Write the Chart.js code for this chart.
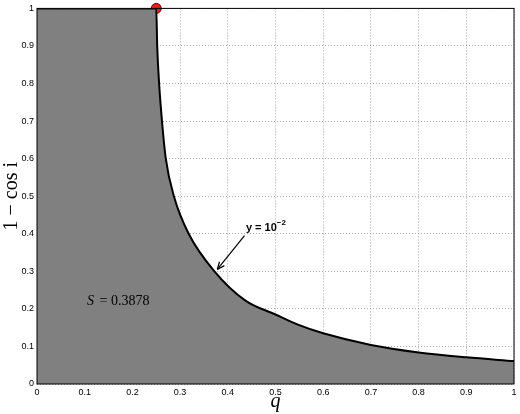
<!DOCTYPE html>
<html><head><meta charset="utf-8">
<script src="https://cdn.jsdelivr.net/npm/chart.js@4"></script>
<style>html,body{margin:0;background:#fff}#wrap{width:520px;height:414px}</style>
</head><body><div id="wrap"><canvas id="c"></canvas></div>
<script>
// Boundary curve y = 10^-2 (q vs 1 - cos i)
const qValues = [0, 0.25, 0.252, 0.256, 0.262, 0.27, 0.287, 0.318, 0.372, 0.437, 0.5, 0.547, 0.6, 0.7, 0.8, 0.9, 1];
const yValues = [1, 1, 0.9, 0.8, 0.7, 0.6, 0.5, 0.4, 0.3, 0.222, 0.185, 0.158, 0.135, 0.104, 0.084, 0.071, 0.061];
const markerPoint = [{ x: 0.25, y: 1 }];
const tickValues = [0, 0.1, 0.2, 0.3, 0.4, 0.5, 0.6, 0.7, 0.8, 0.9, 1];
const curveLabel = 'y = 10';

const curve = qValues.map((q, i) => ({ x: q, y: yValues[i] }));

const annotations = {
    id: 'annotations',
    afterDatasetsDraw(chart) {
        const ctx = chart.ctx;
        const xs = chart.scales.x, ys = chart.scales.y;
        // area text
        ctx.save();
        ctx.fillStyle = '#000';
        ctx.font = 'italic 14px "Liberation Serif"';
        ctx.textBaseline = 'middle';
        ctx.fillText('S', xs.getPixelForValue(0.105), ys.getPixelForValue(0.22));
        ctx.font = '14px "Liberation Serif"';
        ctx.fillText(' = 0.3878', xs.getPixelForValue(0.105) + 9, ys.getPixelForValue(0.22));
        // curve label with arrow
        const tx = xs.getPixelForValue(0.438), ty = ys.getPixelForValue(0.415);
        ctx.font = 'bold 11px "Liberation Sans"';
        ctx.fillText(curveLabel, tx, ty);
        const w = ctx.measureText(curveLabel).width;
        ctx.font = 'bold 8px "Liberation Sans"';
        ctx.fillText('\u22122', tx + w, ty - 5);
        const x0 = xs.getPixelForValue(0.435), y0 = ys.getPixelForValue(0.395);
        const x1 = xs.getPixelForValue(0.378), y1 = ys.getPixelForValue(0.305);
        ctx.strokeStyle = '#000';
        ctx.lineWidth = 1.2;
        ctx.beginPath(); ctx.moveTo(x0, y0); ctx.lineTo(x1, y1); ctx.stroke();
        const a = Math.atan2(y1 - y0, x1 - x0);
        ctx.beginPath();
        ctx.moveTo(x1, y1);
        ctx.lineTo(x1 - 8 * Math.cos(a - 0.4), y1 - 8 * Math.sin(a - 0.4));
        ctx.moveTo(x1, y1);
        ctx.lineTo(x1 - 8 * Math.cos(a + 0.4), y1 - 8 * Math.sin(a + 0.4));
        ctx.stroke();
        // frame
        const ca = chart.chartArea;
        ctx.lineWidth = 1;
        ctx.strokeRect(ca.left, ca.top, ca.right - ca.left, ca.bottom - ca.top);
        ctx.restore();
    }
};

new Chart(document.getElementById('c'), {
    type: 'scatter',
    data: {
        datasets: [{
            data: curve,
            showLine: true,
            cubicInterpolationMode: 'monotone',
            borderColor: '#000',
            borderWidth: 2,
            backgroundColor: '#808080',
            fill: 'origin',
            pointRadius: 0
        }, {
            data: markerPoint,
            pointRadius: 5,
            backgroundColor: '#ee1c1c',
            borderColor: '#600',
            borderWidth: 1,
            clip: false
        }]
    },
    options: {
        responsive: true,
        maintainAspectRatio: false,
        animation: false,
        layout: { padding: { left: 0, right: 2, top: 5, bottom: 0 } },
        plugins: { legend: { display: false }, tooltip: { enabled: false } },
        scales: {
            x: {
                type: 'linear', min: 0, max: 1,
                afterBuildTicks: s => { s.ticks = tickValues.map(v => ({ value: v })); },
                afterFit: s => { s.height = 30; },
                grid: { color: '#aaa', tickLength: 0 },
                border: { display: false, dash: [1, 2] },
                ticks: { color: '#000', font: { size: 9, family: 'Liberation Sans' }, padding: 3, maxRotation: 0,
                    callback: v => String(v) },
                title: { display: true, text: 'q', color: '#000', padding: 0,
                    font: { size: 20, style: 'italic', family: 'Liberation Serif' } }
            },
            y: {
                type: 'linear', min: 0, max: 1,
                afterBuildTicks: s => { s.ticks = tickValues.map(v => ({ value: v })); },
                afterFit: s => { s.width = 37; },
                grid: { color: '#aaa', tickLength: 0 },
                border: { display: false, dash: [1, 2] },
                ticks: { color: '#000', font: { size: 9, family: 'Liberation Sans' }, padding: 3,
                    callback: v => String(v) },
                title: { display: true, text: '1 \u2212 cos i', color: '#000', padding: 0,
                    font: { size: 20, family: 'Liberation Serif' } }
            }
        }
    },
    plugins: [annotations]
});
</script></body></html>
